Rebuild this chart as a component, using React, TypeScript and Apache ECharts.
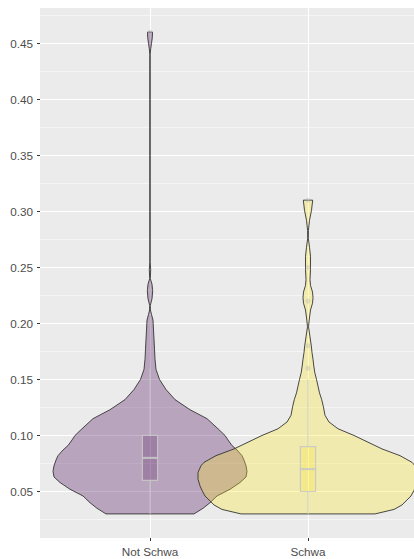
import React, { useEffect, useRef } from "react";
import * as echarts from "echarts";

// ---- data ----
const categories = ["Not Schwa", "Schwa"];
const yTicks = [0.05, 0.1, 0.15, 0.2, 0.25, 0.3, 0.35, 0.4, 0.45];
const yMinorTicks = [0.025, 0.075, 0.125, 0.175, 0.225, 0.275, 0.325, 0.375, 0.425, 0.475];

// violin profiles: level (y) and density half-width (relative units)
const notSchwaLevels = [0.030, 0.035, 0.040, 0.046, 0.052, 0.058, 0.063, 0.068, 0.073, 0.078, 0.082, 0.087, 0.091, 0.096, 0.100, 0.106, 0.115, 0.123, 0.132, 0.141, 0.150, 0.159, 0.168, 0.177, 0.186, 0.194, 0.203, 0.208, 0.212, 0.216, 0.222, 0.229, 0.235, 0.240, 0.248, 0.255, 0.300, 0.350, 0.400, 0.440, 0.445, 0.450, 0.455, 0.460];
const notSchwaDensity = [44, 53, 60, 67, 80, 90, 96, 97, 96, 94, 92, 87, 82, 78, 75, 68, 57, 40, 25, 16, 9.5, 6, 5, 4.5, 4, 3.5, 3, 1.5, 0.4, 0.3, 2, 2.7, 2, 0.3, 0.7, 0.15, 0.15, 0.15, 0.15, 0.15, 0.7, 1.5, 2.3, 2.5];

const schwaLevels = [0.030, 0.034, 0.038, 0.046, 0.051, 0.055, 0.061, 0.067, 0.073, 0.076, 0.082, 0.088, 0.094, 0.100, 0.106, 0.112, 0.118, 0.126, 0.132, 0.138, 0.144, 0.150, 0.156, 0.162, 0.168, 0.174, 0.180, 0.188, 0.197, 0.203, 0.212, 0.218, 0.223, 0.228, 0.234, 0.239, 0.248, 0.260, 0.268, 0.276, 0.283, 0.292, 0.301, 0.310];
const schwaDensity = [67, 86, 94, 103, 106, 108, 110, 110, 107, 104, 92, 74, 60, 46, 30, 21, 17, 15.3, 13.7, 11.5, 10, 8.5, 6.8, 5.8, 5, 4, 3.3, 2, 0.5, 1.2, 2.5, 4.5, 5, 4.5, 2.5, 2, 2.5, 2.5, 1.5, 0.3, 0.4, 1.5, 3.5, 4.7];

// boxplot statistics per category
const whiskerLow = [0.03, 0.03];
const q1 = [0.06, 0.05];
const median = [0.08, 0.07];
const q3 = [0.1, 0.09];
const whiskerHigh = [0.16, 0.15];
const notSchwaOutliers = [0.2, 0.23, 0.46];
const schwaOutliers = [0.16, 0.18, 0.22, 0.25, 0.31];

// ---- styles ----
const DENSITY_TO_X = 1 / 158;
const BOX_HALF = 0.048;
const fills = ["rgba(68,1,84,0.3)", "rgba(253,231,37,0.3)"];
const boxFills = ["rgba(68,1,84,0.22)", "rgba(253,231,37,0.25)"];
const boxLine = "rgba(200,200,200,0.9)";

function violinSeries(idx: number, levels: number[], dens: number[]) {
  return {
    type: "custom",
    xAxisIndex: 0,
    yAxisIndex: 0,
    data: [[idx + 1, levels[0]]],
    clip: true,
    z: 2,
    renderItem: (params: any, api: any) => {
      const c = idx + 1;
      const pts: number[][] = [];
      for (let i = 0; i < levels.length; i++) {
        pts.push(api.coord([c + dens[i] * DENSITY_TO_X, levels[i]]));
      }
      for (let i = levels.length - 1; i >= 0; i--) {
        pts.push(api.coord([c - dens[i] * DENSITY_TO_X, levels[i]]));
      }
      return {
        type: "polygon",
        shape: { points: pts },
        style: { fill: fills[idx], stroke: "#333333", lineWidth: 0.9, lineJoin: "round" },
      };
    },
  };
}

export default function App() {
  const ref = useRef<HTMLDivElement>(null);
  useEffect(() => {
    document.body.style.margin = "0";
    const chart = echarts.init(ref.current!, null, { renderer: "svg" });
    const labelFont = { fontFamily: "Liberation Sans, Arial, sans-serif", fontSize: 11.7, color: "#4D4D4D" };
    chart.setOption({
      animation: false,
      grid: {
        left: 40,
        top: 8,
        right: 0,
        bottom: 21,
        show: true,
        backgroundColor: "#EBEBEB",
        borderWidth: 0,
      },
      xAxis: {
        type: "value",
        min: 1 - 110 / 158,
        max: 2 + 106 / 158,
        axisLine: { show: false },
        axisTick: { show: true, length: 3, customValues: [1, 2], lineStyle: { color: "#333333", width: 1 } },
        axisLabel: {
          ...labelFont,
          margin: 7,
          customValues: [1, 2],
          formatter: (v: number) => categories[Math.round(v) - 1] ?? "",
        },
        splitLine: { show: true, lineStyle: { color: "#FFFFFF", width: 1.1 } },
      },
      yAxis: [
        {
          type: "value",
          min: 0.0085,
          max: 0.4815,
          axisLine: { show: false },
          axisTick: { show: true, length: 3, customValues: yTicks, lineStyle: { color: "#333333", width: 1 } },
          axisLabel: {
            ...labelFont,
            margin: 7,
            customValues: yTicks,
            formatter: (v: number) => v.toFixed(2),
          },
          splitLine: { show: true, lineStyle: { color: "#FFFFFF", width: 1.1 } },
        },
        {
          type: "value",
          position: "left",
          min: 0.0085,
          max: 0.4815,
          axisLine: { show: false },
          axisTick: { show: false, customValues: yMinorTicks },
          axisLabel: { show: false, customValues: yMinorTicks },
          splitLine: { show: true, lineStyle: { color: "#FFFFFF", width: 0.5 } },
        },
      ],
      series: [
        violinSeries(0, notSchwaLevels, notSchwaDensity),
        violinSeries(1, schwaLevels, schwaDensity),
        {
          type: "custom",
          z: 3,
          data: categories.map((_, i) => [i + 1, median[i]]),
          renderItem: (params: any, api: any) => {
            const i = params.dataIndex;
            const c = i + 1;
            const tl = api.coord([c - BOX_HALF, q3[i]]);
            const br = api.coord([c + BOX_HALF, q1[i]]);
            const ml = api.coord([c - BOX_HALF, median[i]]);
            const mr = api.coord([c + BOX_HALF, median[i]]);
            const wTop = api.coord([c, whiskerHigh[i]]);
            const wBot = api.coord([c, whiskerLow[i]]);
            return {
              type: "group",
              children: [
                {
                  type: "line",
                  shape: { x1: wTop[0], y1: wTop[1], x2: wTop[0], y2: tl[1] },
                  style: { stroke: boxLine, lineWidth: 1 },
                },
                {
                  type: "line",
                  shape: { x1: wBot[0], y1: br[1], x2: wBot[0], y2: wBot[1] },
                  style: { stroke: boxLine, lineWidth: 1 },
                },
                {
                  type: "rect",
                  shape: { x: tl[0], y: tl[1], width: br[0] - tl[0], height: br[1] - tl[1] },
                  style: { fill: boxFills[i], stroke: boxLine, lineWidth: 1.2 },
                },
                {
                  type: "line",
                  shape: { x1: ml[0], y1: ml[1], x2: mr[0], y2: mr[1] },
                  style: { stroke: boxLine, lineWidth: 2 },
                },
              ],
            };
          },
        },
        {
          type: "scatter",
          z: 4,
          symbolSize: 5,
          data: [
            ...notSchwaOutliers.map((v) => [1, v]),
            ...schwaOutliers.map((v) => [2, v]),
          ],
          itemStyle: { color: "rgba(185,185,185,0.5)" },
        },
      ],
    });
    return () => chart.dispose();
  }, []);
  return <div ref={ref} style={{ width: 414, height: 559 }} />;
}
